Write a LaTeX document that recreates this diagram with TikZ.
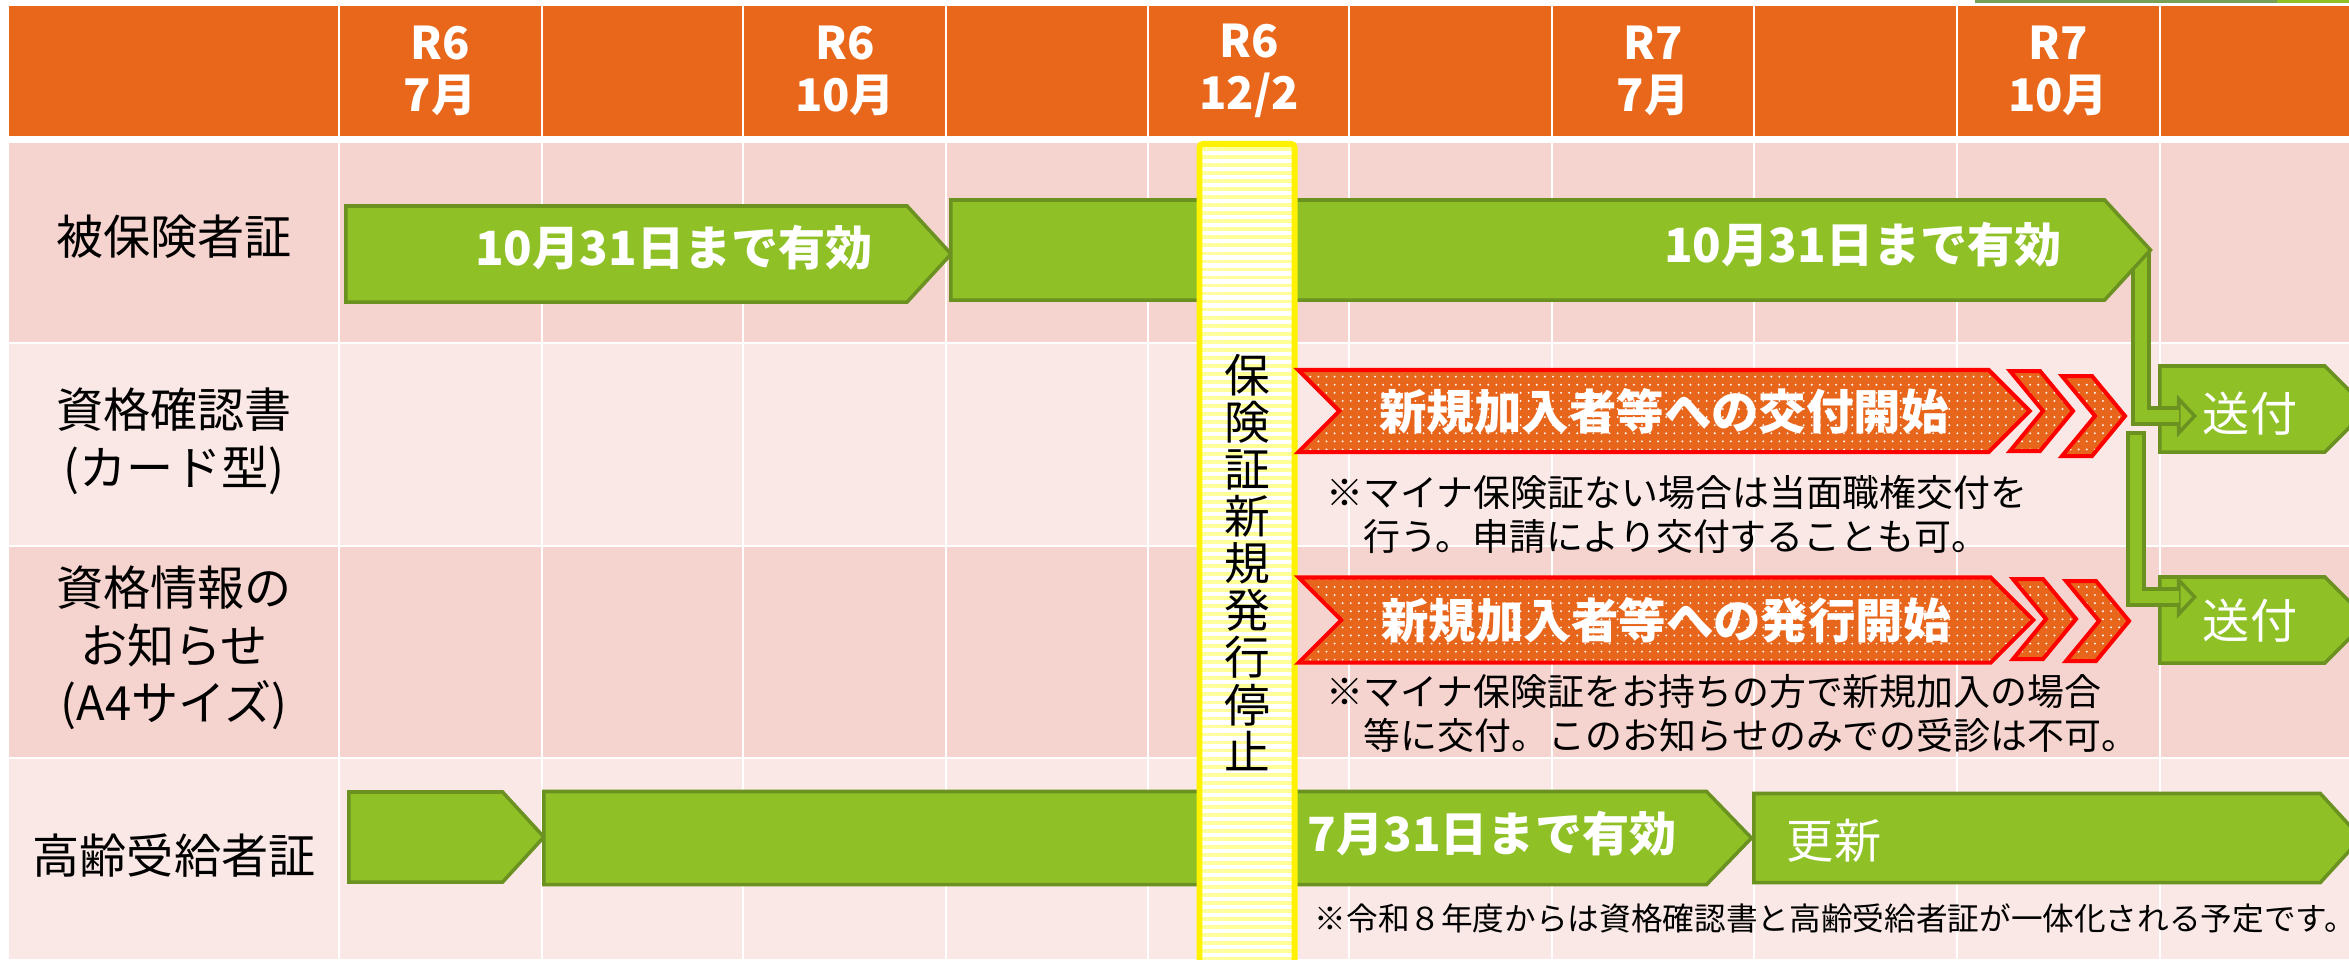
\documentclass[tikz,border=0pt]{standalone}
\usepackage{fontspec}
\setmainfont{Noto Sans CJK JP}
\usetikzlibrary{shapes.symbols,patterns.meta,arrows.meta}

\definecolor{headorange}{HTML}{E8671A}
\definecolor{rowdark}{HTML}{F5D3CE}
\definecolor{rowlight}{HTML}{F9E8E5}
\definecolor{leafgreen}{HTML}{8FC127}
\definecolor{leafdark}{HTML}{6B9121}
\definecolor{bannerorange}{HTML}{E8661C}
\definecolor{stripeyellow}{HTML}{FFFF99}
\definecolor{topgreen}{HTML}{77A157}

\pgfdeclarelayer{bg}
\pgfdeclarelayer{links}
\pgfsetlayers{bg,links,main}

\newcommand{\chevron}[1]{\draw[chevbox] #1 -- ++(30,0) -- ++(33,40) -- ++(-33,40) -- ++(-30,0) -- ++(33,-40) -- cycle;}

\begin{document}
\begin{tikzpicture}
	[x=0.01cm, y=-0.01cm,
	headtext/.style={text=white, font=\bfseries\fontsize{12.8}{14.8}\selectfont, align=center},
	rowtext/.style={font=\fontsize{13.4}{16.4}\selectfont, align=center},
	period/.style={signal, signal from=nowhere, signal to=east, draw=leafdark, fill=leafgreen, line width=1pt, inner sep=0pt, signal pointer angle=95, anchor=west},
	periodtext/.style={text=white, font=\bfseries\fontsize{13.4}{16}\selectfont},
	banner/.style={signal, signal from=west, signal to=east, draw=red, line width=1.14pt, inner sep=0pt, signal pointer angle=90, preaction={fill=bannerorange}, pattern={Dots[distance=2.3pt, radius=0.3pt]}, pattern color=white, text=white, font=\bfseries\fontsize{13.5}{16}\selectfont},
	chevbox/.style={draw=red, line width=1.14pt, preaction={fill=bannerorange}, pattern={Dots[distance=2.3pt, radius=0.3pt]}, pattern color=white},
	note/.style={anchor=west, align=left, inner sep=0pt, font=\fontsize{10.5}{12.5}\selectfont},
	stopbar/.style={draw=yellow, line width=1.7pt, rounded corners=1pt, preaction={fill=white}, pattern={Lines[angle=0, distance=2.28pt, line width=1.1pt]}, pattern color=stripeyellow, align=center, font=\fontsize{13}{13.4}\selectfont, minimum width=0.95cm},
	link/.style={draw=leafdark, line width=5.7pt, -{Triangle[width=12pt, length=5.7pt, fill=leafgreen, line width=1pt]}},
	linkin/.style={draw=leafgreen, line width=3.4pt, shorten >=5.2pt}]
	\useasboundingbox (0,0) rectangle (2349,959);

	% table background
	\begin{pgfonlayer}{bg}
		\fill[topgreen] (1975,0) rectangle (2277,3);
		\fill[leafgreen] (2277,0) rectangle (2349,3);
		\fill[headorange] (9,6) rectangle (2349,136);
		\fill[rowdark] (9,143) rectangle (2349,342);
		\fill[rowlight] (9,344) rectangle (2349,545);
		\fill[rowdark] (9,547) rectangle (2349,757);
		\fill[rowlight] (9,759) rectangle (2349,959);
		\foreach \x in {339,542,743,946,1148,1349,1552,1754,1957,2160}
			\draw[white, line width=0.6pt] (\x,6) -- (\x,959);
		\node[period, signal pointer angle=90, minimum width=2.08cm, minimum height=0.86cm] (send1) at (2158,409) {};
		\node[period, signal pointer angle=90, minimum width=2.08cm, minimum height=0.86cm] (send2) at (2158,620) {};
	\end{pgfonlayer}

	% header
	\node[headtext] (r6jul) at (440,71) {R6\\7月};
	\node[headtext] (r6oct) at (845,71) {R6\\10月};
	\node[headtext] (r6dec) at (1249,71) {R6\\12/2};
	\node[headtext] (r7jul) at (1653,71) {R7\\7月};
	\node[headtext] (r7oct) at (2058,71) {R7\\10月};

	% row labels
	\node[rowtext] (insured) at (174,237) {被保険者証};
	\node[rowtext] (certcard) at (174,441) {資格確認書\\(カード型)};
	\node[rowtext] (infosheet) at (174,648) {資格情報の\\お知らせ\\(A4サイズ)};
	\node[rowtext] (elderly) at (174,856) {高齢受給者証};

	% periods
	\node[period, minimum width=6.05cm, minimum height=0.96cm] (hoken1) at (344,254) {};
	\node[period, minimum width=11.99cm, minimum height=1cm] (hoken2) at (949,250) {};
	\node[periodtext] (hoken1text) at (674,248) {10月31日まで有効};
	\node[periodtext] (hoken2text) at (1863,245) {10月31日まで有効};
	\node[period, minimum width=1.95cm, minimum height=0.9cm] (elder1) at (347,837) {};
	\node[period, signal pointer angle=92, minimum width=12.07cm, minimum height=0.93cm] (elder2) at (542,838) {};
	\node[period, minimum width=6.07cm, minimum height=0.89cm] (elder3) at (1752,838) {};
	\node[periodtext] (elder2text) at (1492,834) {7月31日まで有効};
	\node[periodtext, font=\fontsize{13.4}{16}\selectfont] (elder3text) at (1834,841) {更新};
	\node[periodtext, font=\fontsize{13.4}{16}\selectfont] (send1text) at (2250,414) {送付};
	\node[periodtext, font=\fontsize{13.4}{16}\selectfont] (send2text) at (2250,621) {送付};

	% stop of new issue
	\node[stopbar, minimum height=8.36cm, anchor=north] (stop) at (1247,142) {保\\険\\証\\新\\規\\発\\行\\停\\止};

	% new members
	\node[banner, minimum width=7.31cm, minimum height=0.82cm] (issue1) at (1664,411) {新規加入者等への交付開始};
	\chevron{(2010,371)}
	\chevron{(2062,376)}
	\node[banner, minimum width=7.34cm, minimum height=0.85cm] (issue2) at (1666,620) {新規加入者等への発行開始};
	\chevron{(2013,579)}
	\chevron{(2066,581)}

	% notes
	\node[note] (note1) at (1326,514) {※マイナ保険証ない場合は当面職権交付を\\\hspace*{1em}行う。申請により交付することも可。};
	\node[note] (note2) at (1326,713) {※マイナ保険証をお持ちの方で新規加入の場合\\\hspace*{1em}等に交付。このお知らせのみでの受診は不可。};
	\node[note, font=\fontsize{9}{10}\selectfont] (note3) at (1314,918) {※令和８年度からは資格確認書と高齢受給者証が一体化される予定です。};

	% sending
	\coordinate (in1) at (2197,416);
	\coordinate (in2) at (2197,597);
	\coordinate (split) at (2136,431);
	\begin{pgfonlayer}{links}
		\draw[link] ([xshift=-0.12cm]hoken2.east) |- (in1);
		\draw[link] (split) |- (in2);
		\draw[linkin] ([xshift=-0.12cm]hoken2.east) |- (in1);
		\draw[linkin, shorten <=1pt] (split) |- (in2);
	\end{pgfonlayer}
\end{tikzpicture}
\end{document}
